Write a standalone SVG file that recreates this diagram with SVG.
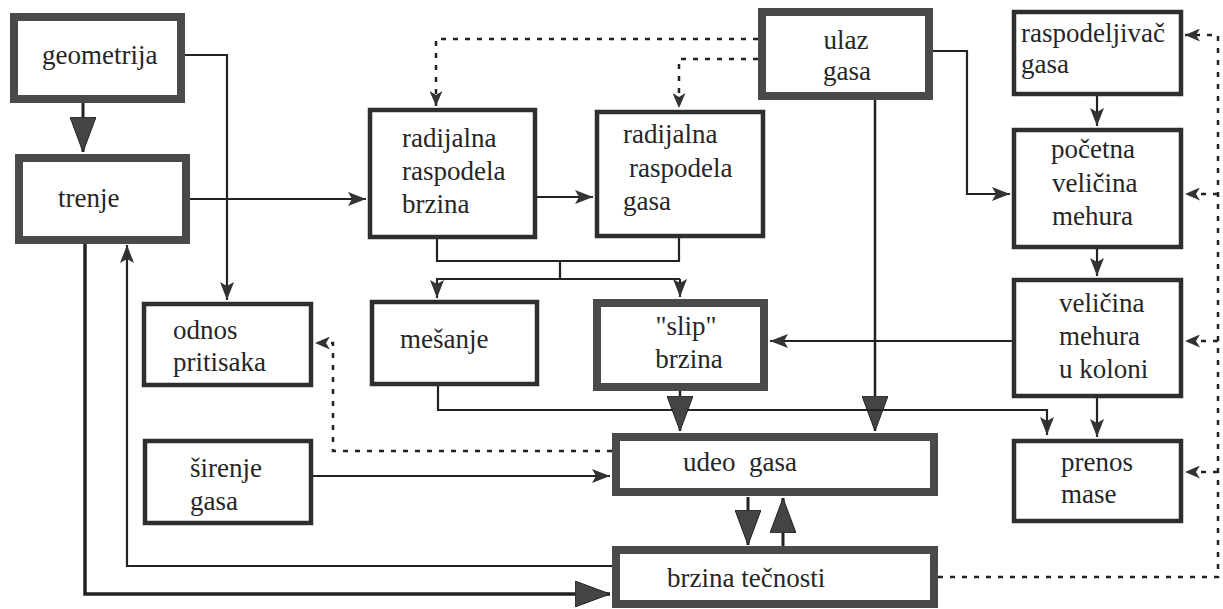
<svg xmlns="http://www.w3.org/2000/svg" width="1223" height="609" viewBox="0 0 1223 609">
<style>
.thick{fill:#fff;stroke:#4a4a4a;stroke-width:8}
.med{fill:#fff;stroke:#2e2e2e;stroke-width:4.5}
.t{font-size:27px;fill:#262626}
.ln{fill:none;stroke:#222;stroke-width:2.2}
.bl{fill:none;stroke:#222;stroke-width:3}
.dt{fill:none;stroke:#222;stroke-width:2.5;stroke-dasharray:5 7}
</style>
<defs>
<marker id="sm" markerUnits="userSpaceOnUse" viewBox="0 0 18 14" refX="18" refY="7" markerWidth="18" markerHeight="14" orient="auto"><path d="M0,0 L18,7 L0,14 L4,7 z" fill="#333"/></marker>
<marker id="big" markerUnits="userSpaceOnUse" viewBox="0 0 35 26" refX="35" refY="13" markerWidth="35" markerHeight="26" orient="auto"><path d="M0,0 L35,13 L0,26 z" fill="#444" stroke="#222" stroke-width="1"/></marker>
<marker id="dm" markerUnits="userSpaceOnUse" viewBox="0 0 15 13" refX="15" refY="6.5" markerWidth="15" markerHeight="13" orient="auto"><path d="M0,0 L15,6.5 L0,13 L4,6.5 z" fill="#333"/></marker>
</defs>
<g id="connectors">
<path class="bl" d="M83,103 V152" marker-end="url(#big)"/>
<path class="ln" d="M185,55 H227 V300" marker-end="url(#sm)"/>
<path class="ln" d="M190,199 H366" marker-end="url(#sm)"/>
<path class="bl" style="stroke-width:3.5" d="M85,244 V594 H610" marker-end="url(#big)"/>
<path class="ln" d="M612,566 H127 V245" marker-end="url(#sm)"/>
<path class="ln" d="M537,197 H593" marker-end="url(#sm)"/>
<path class="ln" d="M437,239 V261 H679 V238 M560,261 V279 M436,279 H680"/>
<path class="ln" d="M437,279 V298" marker-end="url(#sm)"/>
<path class="ln" d="M680,279 V297" marker-end="url(#sm)"/>
<path class="dt" d="M758,39 H436 V106" marker-end="url(#dm)"/>
<path class="dt" d="M758,59 H679 V108" marker-end="url(#dm)"/>
<path class="ln" d="M933,51 H967 V194 H1010" marker-end="url(#sm)"/>
<path class="bl" style="stroke-width:2.5" d="M875,100 V431" marker-end="url(#big)"/>
<path class="ln" d="M1097,96 V126" marker-end="url(#sm)"/>
<path class="ln" d="M1097,249 V276" marker-end="url(#sm)"/>
<path class="ln" d="M1012,341 H770" marker-end="url(#sm)"/>
<path class="ln" d="M1097,398 V437" marker-end="url(#sm)"/>
<path class="ln" d="M438,386 V410 H1047 V435" marker-end="url(#sm)"/>
<path class="bl" style="stroke-width:2.5" d="M680,391 V431" marker-end="url(#big)"/>
<path class="ln" d="M313,476 H610" marker-end="url(#sm)"/>
<path class="bl" d="M748,497 V545" marker-end="url(#big)"/>
<path class="bl" d="M783,547 V498" marker-end="url(#big)"/>
<path class="dt" d="M612,451 H333 V343 H315" marker-end="url(#dm)"/>
<path class="dt" d="M938,577 H1218 V35 H1185" marker-end="url(#dm)"/>
<path class="dt" d="M1218,194 H1185" marker-end="url(#dm)"/>
<path class="dt" d="M1218,341 H1185" marker-end="url(#dm)"/>
<path class="dt" d="M1218,472 H1185" marker-end="url(#dm)"/>
</g>
<g font-family="Liberation Serif, Times New Roman, serif">
<g id="geometrija"><rect class="thick" x="14" y="17" width="167" height="82"/><text class="t" x="42" y="64">geometrija</text></g>
<g id="trenje"><rect class="thick" x="19" y="158" width="167" height="82"/><text class="t" x="58" y="207">trenje</text></g>
<g id="ulaz-gasa"><rect class="thick" x="762" y="12" width="167" height="84"/><text class="t" x="846" y="49" text-anchor="middle">ulaz</text><text class="t" x="847" y="80" text-anchor="middle">gasa</text></g>
<g id="radijalna-brzina"><rect class="med" x="370" y="110" width="165" height="127"/><text class="t" x="402" y="147">radijalna</text><text class="t" x="402" y="180">raspodela</text><text class="t" x="402" y="213">brzina</text></g>
<g id="radijalna-gasa"><rect class="med" x="597" y="112" width="166" height="124"/><text class="t" x="623" y="143">radijalna</text><text class="t" x="629" y="177">raspodela</text><text class="t" x="623" y="210">gasa</text></g>
<g id="raspodeljivac"><rect class="med" x="1014" y="12" width="167" height="82"/><text class="t" x="1021" y="42">raspodeljivač</text><text class="t" x="1021" y="73">gasa</text></g>
<g id="pocetna"><rect class="med" x="1014" y="130" width="167" height="117"/><text class="t" x="1051" y="158">početna</text><text class="t" x="1052" y="192">veličina</text><text class="t" x="1052" y="225">mehura</text></g>
<g id="velicina"><rect class="med" x="1014" y="280" width="167" height="116"/><text class="t" x="1059" y="312">veličina</text><text class="t" x="1059" y="345">mehura</text><text class="t" x="1059" y="378">u koloni</text></g>
<g id="prenos"><rect class="med" x="1014" y="441" width="167" height="80"/><text class="t" x="1061" y="471">prenos</text><text class="t" x="1061" y="503">mase</text></g>
<g id="odnos"><rect class="med" x="144" y="304" width="167" height="81"/><text class="t" x="173" y="339">odnos</text><text class="t" x="173" y="371">pritisaka</text></g>
<g id="sirenje"><rect class="med" x="145" y="441" width="166" height="82"/><text class="t" x="190" y="477">širenje</text><text class="t" x="190" y="510">gasa</text></g>
<g id="mesanje"><rect class="med" x="372" y="302" width="165" height="82"/><text class="t" x="400" y="348">mešanje</text></g>
<g id="slip"><rect class="thick" x="597" y="303" width="167" height="84"/><text class="t" x="686" y="335" text-anchor="middle">"slip"</text><text class="t" x="689" y="368" text-anchor="middle">brzina</text></g>
<g id="udeo-gasa"><rect class="thick" x="616" y="437" width="318" height="55"/><text class="t" x="683" y="471" xml:space="preserve">udeo  gasa</text></g>
<g id="brzina-tecnosti"><rect class="thick" x="616" y="550" width="318" height="54"/><text class="t" x="667" y="587">brzina tečnosti</text></g>
</g>
</svg>
